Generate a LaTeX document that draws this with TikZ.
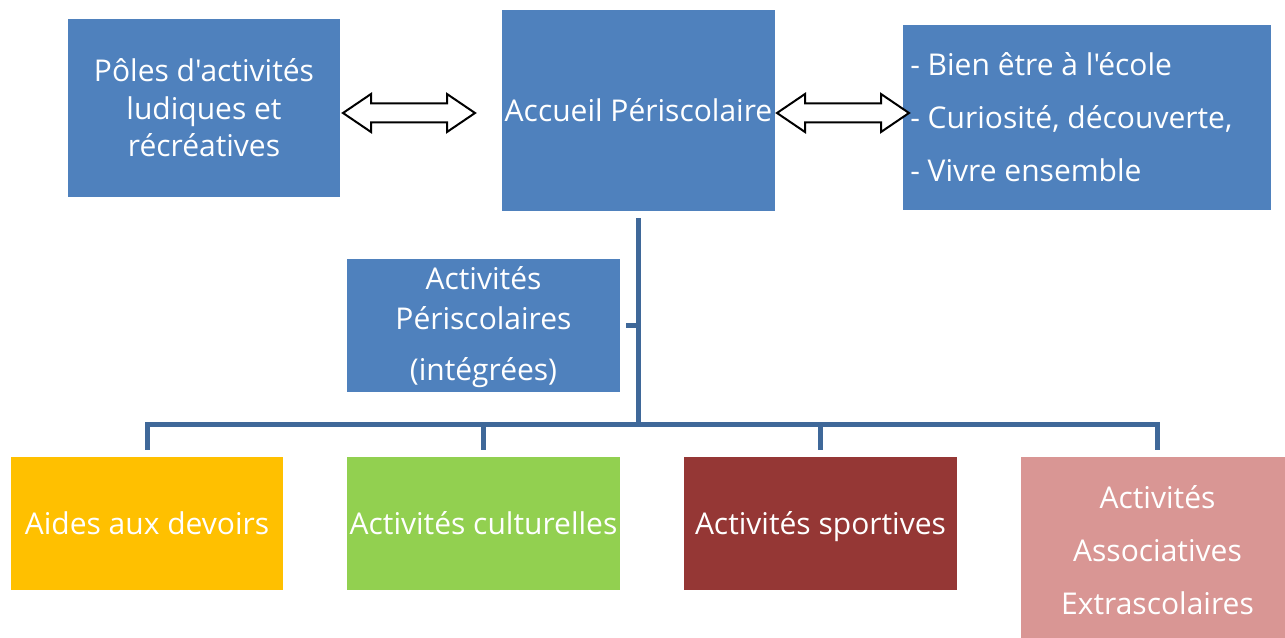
\documentclass[tikz,border=0pt]{standalone}
\usepackage{fontspec}
\newfontfamily\osf{Open Sans}
\definecolor{blu}{HTML}{4F81BD}
\definecolor{conn}{HTML}{3F6899}
\definecolor{gold}{HTML}{FFC000}
\definecolor{grn}{HTML}{92D050}
\definecolor{maroon}{HTML}{953735}
\definecolor{rose}{HTML}{D99694}
\tikzset{
  box/.style={rectangle, inner sep=0pt, text=white, align=center,
    font=\osf\fontsize{22.5pt}{28pt}\selectfont},
  one/.style={text depth=0pt},
  line/.style={draw=conn, line width=3.75pt},
  dbl/.style={draw=black, fill=white, line width=1.5pt, line join=miter},
}
\newcommand\dblarrow[3]{% left tip x, right tip x, y
  \draw[dbl] (#1,#3) -- (#1+28,#3-19) -- (#1+28,#3-9.5) -- (#2-28,#3-9.5)
    -- (#2-28,#3-19) -- (#2,#3) -- (#2-28,#3+19) -- (#2-28,#3+9.5)
    -- (#1+28,#3+9.5) -- (#1+28,#3+19) -- cycle;}
\begin{document}
\begin{tikzpicture}[x=0.75pt,y=-0.75pt]
\useasboundingbox (0,0) rectangle (1285,638);
\clip (0,0) rectangle (1285,638);
% top row
\node[box, fill=blu, minimum width=204pt, minimum height=133.5pt,
  font=\osf\fontsize{22.5pt}{28.1pt}\selectfont] (poles) at (204,108)
  {P\^oles d'activit\'es\\ludiques et\\r\'ecr\'eatives};
\node[box, one, fill=blu, minimum width=204.75pt, minimum height=150.75pt] (acc) at (638.5,110.5)
  {Accueil P\'eriscolaire};
\node[box, fill=blu, minimum width=276pt, minimum height=138.75pt] (obj) at (1087,117.5) {};
\node[box, anchor=west, align=left, font=\osf\fontsize{22.5pt}{39.75pt}\selectfont] (objtxt) at (910,117)
  {- Bien \^etre \`a l'\'ecole\\- Curiosit\'e, d\'ecouverte,\\- Vivre ensemble};
% arrows
\dblarrow{343}{475}{113}
\dblarrow{777}{909}{113}
% middle box
\node[box, fill=blu, minimum width=204.75pt, minimum height=99.75pt] (peri) at (483.5,325.5) {};
\node[box, font=\osf\fontsize{22.5pt}{28pt}\selectfont] (peritxt) at (483.5,327.5)
  {Activit\'es\\[1.5pt]P\'eriscolaires\\[10.8pt](int\'egr\'ees)};
% bottom row
\node[box, one, fill=gold, minimum width=204pt, minimum height=99.75pt] (aides) at (147,523.5)
  {Aides aux devoirs};
\node[box, one, fill=grn, minimum width=204.75pt, minimum height=99.75pt] (cult) at (483.5,523.5)
  {Activit\'es culturelles};
\node[box, one, fill=maroon, minimum width=204.75pt, minimum height=99.75pt] (sport) at (820.5,523.5)
  {Activit\'es sportives};
\node[box, fill=rose, minimum width=204.75pt, minimum height=139.5pt,
  font=\osf\fontsize{22.5pt}{39.75pt}\selectfont] (assoc) at (1157.5,550)
  {Activit\'es\\Associatives\\Extrascolaires};
% connectors
\coordinate (bus) at (638,424);
\draw[line, shorten <=5.25pt] (acc.south) -- (acc.south |- bus);
\draw[line, shorten <=4.5pt] (peri.east) -- (peri.east -| acc.south);
\draw[line, shorten <=5.25pt, shorten >=5.25pt] (aides.north) -- (aides.north |- bus) -| (assoc.north);
\draw[line, shorten >=5.25pt] (cult.north |- bus) -- (cult.north);
\draw[line, shorten >=5.25pt] (sport.north |- bus) -- (sport.north);
\end{tikzpicture}
\end{document}
